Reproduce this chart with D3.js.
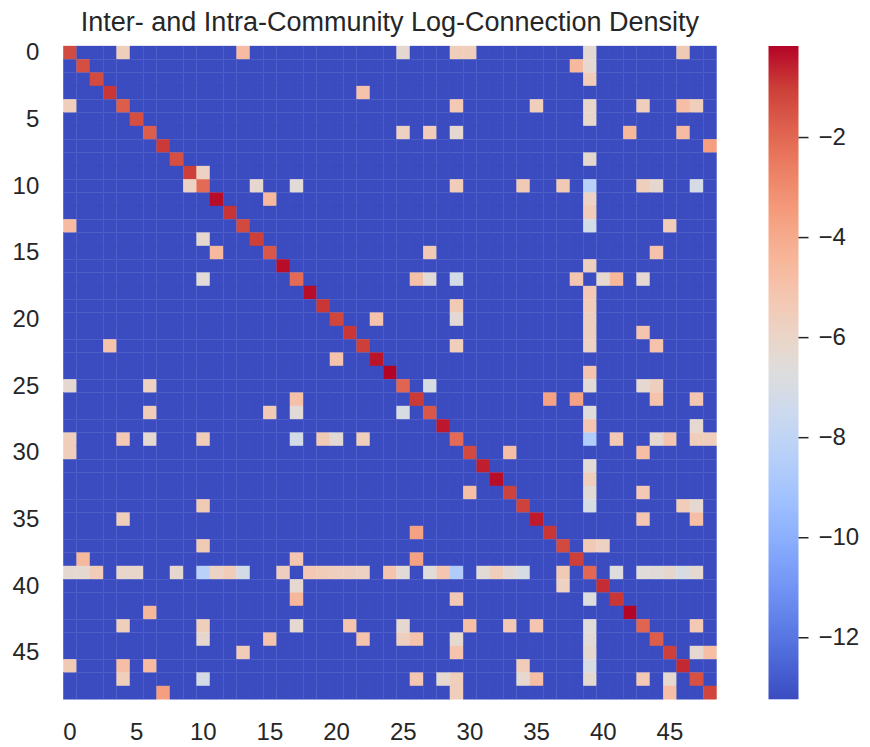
<!DOCTYPE html>
<html lang="en">
<head>
    <meta charset="UTF-8">
    <title>Inter- and Intra-Community Log-Connection Density</title>
    <script src="https://d3js.org/d3.v7.min.js"></script>
    <style>
        body { margin: 0; background: #fff; }
        text { font-family: "Liberation Sans", Arial, sans-serif; fill: #262626; }
    </style>
</head>
<body>
    <div id="chart"></div>
    <script>
        // community count and the log density of empty blocks
        const nCommunities = 49;
        const floorValue = -13.24;

        // intra-community log density (diagonal)
        const diagonal = [
            -1.3, -1.4, -1.3, -0.9, -1.75, -1.4, -1.75, -0.95, -1.4, -1.05,
            -2.1, -0.3, -0.85, -1.25, -1.05, -1.6, -0.3, -2.1, -0.3, -0.9,
            -1.2, -0.9, -1.05, -0.4, -0.18, -1.95, -0.95, -1.6, -0.45, -2.1,
            -1.25, -0.55, -0.3, -1.1, -1.1, -0.5, -0.9, -1.25, -1.05, -2.0,
            -0.75, -0.9, -0.2, -1.95, -1.75, -1.05, -0.7, -1.45, -1.2
        ];

        // inter-community log density, [i, j, value], matrix is symmetric
        const pairs = [
            [0, 4, -5.6], [0, 13, -4.7], [0, 25, -6.3], [0, 29, -5.6], [0, 30, -5.6], [0, 39, -6.3], [0, 46, -5.4],
            [1, 38, -4.6], [1, 39, -6.3],
            [2, 39, -5.5],
            [3, 22, -5.0],
            [4, 29, -5.3], [4, 35, -5.6], [4, 39, -6.1], [4, 43, -5.6], [4, 46, -4.8], [4, 47, -5.6],
            [5, 39, -6.1],
            [6, 25, -5.8], [6, 27, -5.5], [6, 29, -6.3], [6, 42, -4.5], [6, 46, -4.7],
            [7, 48, -3.6],
            [8, 39, -6.2],
            [9, 10, -5.8],
            [10, 14, -6.2], [10, 17, -6.5], [10, 29, -5.5], [10, 34, -5.4], [10, 37, -5.4], [10, 39, -8.3],
            [10, 43, -5.6], [10, 44, -6.2], [10, 47, -7.1],
            [11, 15, -4.6], [11, 39, -5.9],
            [12, 39, -5.5],
            [13, 39, -7.2], [13, 45, -5.5],
            [15, 27, -5.4], [15, 44, -5.0],
            [16, 39, -5.7],
            [17, 26, -4.9], [17, 27, -6.5], [17, 29, -7.2], [17, 38, -5.2], [17, 40, -6.3], [17, 41, -4.5], [17, 43, -6.3],
            [18, 39, -5.3],
            [19, 29, -5.4], [19, 39, -5.5],
            [20, 23, -5.0], [20, 29, -6.4], [20, 39, -5.7],
            [21, 39, -5.7], [21, 43, -5.1],
            [22, 29, -5.6], [22, 39, -5.8], [22, 44, -5.0],
            [24, 39, -5.1],
            [25, 27, -7.0], [25, 39, -6.5], [25, 43, -6.3], [25, 44, -5.7],
            [26, 36, -3.7], [26, 38, -3.7], [26, 44, -5.0], [26, 47, -5.2],
            [27, 39, -6.6],
            [28, 39, -5.2], [28, 47, -6.3],
            [29, 39, -8.6], [29, 41, -5.3], [29, 44, -6.3], [29, 45, -5.1], [29, 47, -5.6], [29, 48, -5.6],
            [30, 33, -4.8], [30, 43, -4.8],
            [31, 39, -6.5],
            [32, 39, -5.6],
            [33, 39, -6.4], [33, 43, -5.3],
            [34, 39, -7.0], [34, 46, -5.5], [34, 47, -6.3],
            [35, 43, -5.2], [35, 47, -4.8],
            [37, 39, -5.4], [37, 40, -5.8],
            [39, 41, -6.7], [39, 43, -6.6], [39, 44, -6.5], [39, 45, -6.2], [39, 46, -7.0], [39, 47, -6.3],
            [43, 47, -5.3],
            [45, 47, -6.3], [45, 48, -4.8]
        ];

        const axisTicks = [0, 5, 10, 15, 20, 25, 30, 35, 40, 45];
        const colorTicks = [-2, -4, -6, -8, -10, -12];

        // matplotlib coolwarm, sampled every 1/16
        const coolwarm = [
            "#3b4cc0", "#4d68d7", "#6282ea", "#779af7", "#8db0fe", "#a3c2fe", "#b8d0f9", "#ccd9ee",
            "#dddddd", "#ecd3c5", "#f5c4ad", "#f7b194", "#f49a7b", "#ec7f63", "#de604d", "#cb3e38", "#b40426"
        ];

        // build the full matrix
        const matrix = d3.range(nCommunities).map(i =>
            d3.range(nCommunities).map(j => i === j ? diagonal[i] : floorValue));
        pairs.forEach(([i, j, v]) => { matrix[i][j] = v; matrix[j][i] = v; });
        const cells = [];
        matrix.forEach((row, i) => row.forEach((v, j) => cells.push({row: i, col: j, value: v})));

        const width = 870;
        const height = 747;
        const plotLeft = 63.3, plotTop = 46, plotSize = 653.3;
        const cbX = 768.5, cbW = 30;

        const extent = d3.extent(cells, d => d.value);
        const color = d3.scaleLinear()
            .domain(coolwarm.map((c, k) => extent[0] + (extent[1] - extent[0]) * k / (coolwarm.length - 1)))
            .range(coolwarm)
            .interpolate(d3.interpolateRgb)
            .clamp(true);

        const x = d3.scaleBand().domain(d3.range(nCommunities)).range([plotLeft, plotLeft + plotSize]);
        const y = d3.scaleBand().domain(d3.range(nCommunities)).range([plotTop, plotTop + plotSize]);

        const svg = d3.select("#chart").append("svg")
            .attr("width", width)
            .attr("height", height)
            .attr("viewBox", [0, 0, width, height]);

        svg.append("text")
            .attr("x", plotLeft + plotSize / 2)
            .attr("y", 31)
            .attr("text-anchor", "middle")
            .attr("font-size", 27)
            .text("Inter- and Intra-Community Log-Connection Density");

        svg.append("g")
            .selectAll("rect")
            .data(cells)
            .join("rect")
            .attr("x", d => x(d.col))
            .attr("y", d => y(d.row))
            .attr("width", x.bandwidth())
            .attr("height", y.bandwidth())
            .attr("fill", d => color(d.value))
            .attr("stroke", d => color(d.value))
            .attr("stroke-width", 0.3);

        // axes without tick marks
        const xAxis = svg.append("g")
            .attr("transform", `translate(0,${plotTop + plotSize})`)
            .call(d3.axisBottom(x).tickValues(axisTicks).tickSize(0).tickPadding(24));
        const yAxis = svg.append("g")
            .attr("transform", `translate(${plotLeft},0)`)
            .call(d3.axisLeft(y).tickValues(axisTicks).tickSize(0).tickPadding(24));
        [xAxis, yAxis].forEach(g => {
            g.select(".domain").remove();
            g.selectAll("text").attr("font-size", 24).attr("font-family", null).attr("fill", "#262626");
        });

        // colorbar
        const cScale = d3.scaleLinear().domain(extent).range([plotTop + plotSize, plotTop]);
        const defs = svg.append("defs");
        const grad = defs.append("linearGradient")
            .attr("id", "cbar")
            .attr("x1", 0).attr("y1", 1).attr("x2", 0).attr("y2", 0);
        grad.selectAll("stop")
            .data(d3.range(0, 1.0001, 1 / 64))
            .join("stop")
            .attr("offset", t => t)
            .attr("stop-color", t => color(extent[0] + t * (extent[1] - extent[0])));

        svg.append("rect")
            .attr("x", cbX)
            .attr("y", plotTop)
            .attr("width", cbW)
            .attr("height", plotSize)
            .attr("fill", "url(#cbar)");

        const cAxis = svg.append("g")
            .attr("transform", `translate(${cbX + cbW},0)`)
            .call(d3.axisRight(cScale).tickValues(colorTicks).tickSize(10).tickPadding(10));
        cAxis.select(".domain").remove();
        cAxis.selectAll("line").attr("stroke", "#262626").attr("stroke-width", 1.5);
        cAxis.selectAll("text").attr("font-size", 24).attr("font-family", null).attr("fill", "#262626");
    </script>
</body>
</html>
